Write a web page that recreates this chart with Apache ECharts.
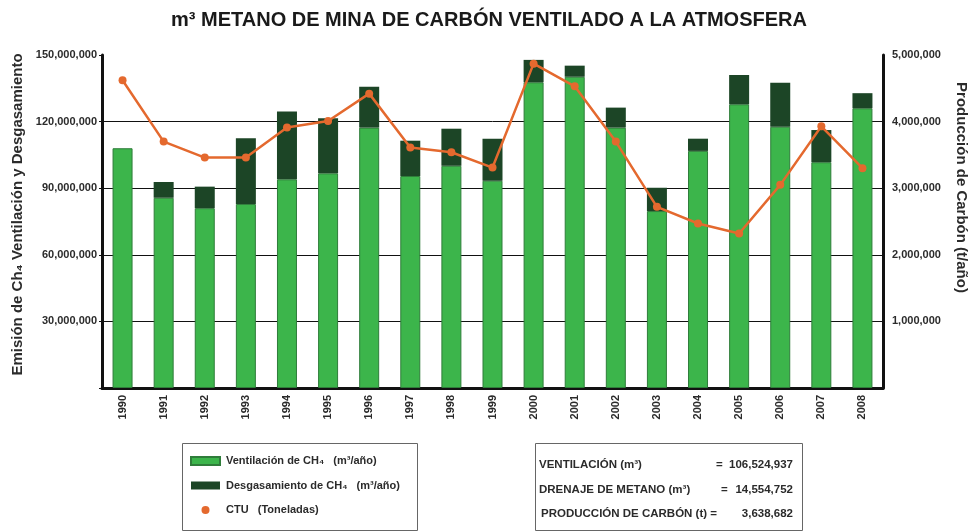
<!DOCTYPE html>
<html>
<head>
<meta charset="utf-8">
<script src="https://cdn.jsdelivr.net/npm/echarts@6/dist/echarts.min.js"></script>
<style>
  html, body { margin: 0; padding: 0; background: #fff; }
  #chart { width: 978px; height: 531px; }
</style>
</head>
<body>
<div id="chart"></div>
<script>
// años
const years = ['1990', '1991', '1992', '1993', '1994', '1995', '1996', '1997', '1998', '1999',
  '2000', '2001', '2002', '2003', '2004', '2005', '2006', '2007', '2008']
// ventilación de CH4 (m3/año)
const ventilacion = [108000000, 85700000, 81000000, 82900000, 94000000, 96700000, 117300000, 95500000, 100100000, 93400000,
  137700000, 140200000, 117300000, 79700000, 106800000, 127800000, 117700000, 101700000, 126000000]
// desgasamiento de CH4 (m3/año)
const desgasamiento = [0, 7100000, 9700000, 29600000, 30500000, 24800000, 18400000, 15900000, 16700000, 18900000,
  10100000, 5000000, 9000000, 10500000, 5500000, 13200000, 19800000, 14500000, 6800000]
// producción de carbón (t)
const ctu = [4620000, 3700000, 3460000, 3460000, 3910000, 4010000, 4420000, 3610000, 3540000, 3310000,
  4870000, 4530000, 3700000, 2720000, 2470000, 2320000, 3050000, 3930000, 3300000]

const statLabels = ['VENTILACIÓN (m³)', 'DRENAJE DE METANO (m³)', 'PRODUCCIÓN DE CARBÓN (t) =']
const statValues = [106524937, 14554752, 3638682]

const FONT = '"Liberation Sans", Arial, sans-serif'
const TXT = '#2b2b2b'

const nameVent = 'Ventilación de CH₄   (m³/año)'
const nameDesg = 'Desgasamiento de CH₄   (m³/año)'
const nameCtu = 'CTU   (Toneladas)'

const fmt = v => v === 0 ? '' : v.toLocaleString('en-US')

const statsGraphic = []
statLabels.forEach((label, i) => {
  const y = 465 + i * 24.5
  statsGraphic.push({
    type: 'text', x: i === 2 ? 541 : 539, y: y,
    style: { text: label, font: 'bold 11.5px ' + FONT, fill: TXT, textVerticalAlign: 'middle' }
  })
  if (i < 2) {
    statsGraphic.push({
      type: 'text', x: i === 0 ? 716 : 721, y: y,
      style: { text: '=', font: 'bold 11.5px ' + FONT, fill: TXT, textVerticalAlign: 'middle' }
    })
  }
  statsGraphic.push({
    type: 'text', x: 793, y: y,
    style: { text: statValues[i].toLocaleString('en-US'), font: 'bold 11.5px ' + FONT, fill: TXT,
      textAlign: 'right', textVerticalAlign: 'middle' }
  })
})

const chart = echarts.init(document.getElementById('chart'))
chart.setOption({
  animation: false,
  textStyle: { fontFamily: FONT },
  title: {
    text: 'm³ METANO DE MINA DE CARBÓN VENTILADO A LA ATMOSFERA',
    left: 'center',
    top: 5,
    textStyle: { fontSize: 20, fontWeight: 'bold', color: '#1a1a1a', fontFamily: FONT }
  },
  grid: { left: 102, right: 95, top: 55, bottom: 143 },
  legend: {
    orient: 'vertical',
    left: 190,
    top: 454,
    padding: 0,
    itemWidth: 29,
    itemHeight: 8,
    itemGap: 10.5,
    textStyle: { fontSize: 11, fontWeight: 'bold', color: TXT, lineHeight: 14, padding: [0, 0, 0, 1] },
    data: [
      { name: nameVent, icon: 'rect' },
      { name: nameDesg, icon: 'rect' },
      { name: nameCtu, icon: 'circle' }
    ]
  },
  xAxis: {
    type: 'category',
    data: years,
    axisLine: { lineStyle: { color: '#111', width: 3 } },
    axisTick: { show: false },
    axisLabel: { rotate: 90, fontSize: 11, fontWeight: 'bold', color: TXT, margin: 7 }
  },
  yAxis: [
    {
      type: 'value',
      min: 0,
      max: 150000000,
      interval: 30000000,
      name: 'Emisión de Ch₄ Ventilación y Desgasamiento',
      nameLocation: 'middle',
      nameRotate: 90,
      nameGap: 76,
      nameTextStyle: { fontSize: 15, fontWeight: 'bold', color: TXT, padding: [0, 0, 0, 14] },
      axisLine: { show: true, lineStyle: { color: '#111', width: 3 } },
      axisTick: { show: true, length: 3, lineStyle: { color: '#111' } },
      axisLabel: { fontSize: 11, fontWeight: 'bold', color: TXT, margin: 5, formatter: fmt },
      splitLine: { lineStyle: { color: ['#111', '#111', '#111', '#111', '#111', 'rgba(0,0,0,0)'], width: 1 } }
    },
    {
      type: 'value',
      min: 0,
      max: 5000000,
      interval: 1000000,
      position: 'right',
      name: 'Producción de Carbón (t/año)',
      nameLocation: 'middle',
      nameRotate: -90,
      nameGap: 71,
      nameTextStyle: { fontSize: 15, fontWeight: 'bold', color: TXT, padding: [0, 68, 0, 0] },
      axisLine: { show: true, lineStyle: { color: '#111', width: 3 } },
      axisTick: { show: false },
      axisLabel: { fontSize: 11, fontWeight: 'bold', color: TXT, margin: 9, formatter: fmt },
      splitLine: { show: false }
    }
  ],
  series: [
    {
      name: nameVent,
      type: 'bar',
      stack: 'ch4',
      barWidth: 20,
      data: ventilacion,
      itemStyle: { color: '#3cb54b', borderColor: '#2f7d3a', borderWidth: 1 }
    },
    {
      name: nameDesg,
      type: 'bar',
      stack: 'ch4',
      barWidth: 20,
      data: desgasamiento,
      itemStyle: { color: '#1c4526', borderWidth: 0 }
    },
    {
      name: nameCtu,
      type: 'line',
      yAxisIndex: 1,
      data: ctu,
      z: 5,
      symbol: 'circle',
      symbolSize: 8,
      lineStyle: { color: '#e4692e', width: 2.5 },
      itemStyle: { color: '#e4692e' }
    }
  ],
  graphic: [
    { type: 'rect', shape: { x: 182.5, y: 443.5, width: 235, height: 87 }, style: { fill: 'none', stroke: '#666', lineWidth: 1 } },
    { type: 'rect', shape: { x: 535.5, y: 443.5, width: 267, height: 87 }, style: { fill: 'none', stroke: '#666', lineWidth: 1 } }
  ].concat(statsGraphic)
})
</script>
</body>
</html>
